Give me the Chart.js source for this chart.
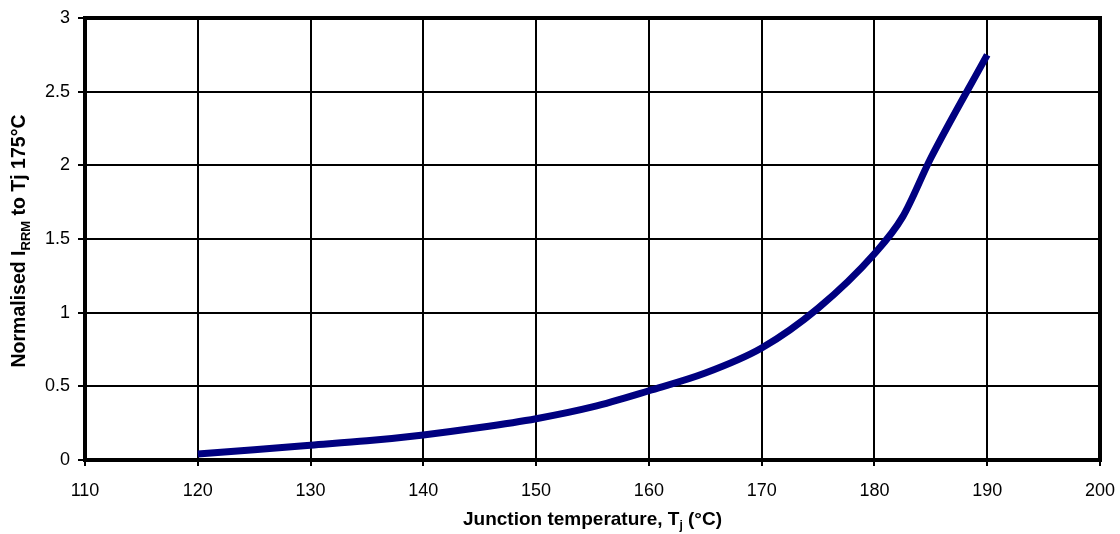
<!DOCTYPE html>
<html>
<head>
<meta charset="utf-8">
<script src="https://cdn.jsdelivr.net/npm/chart.js@4"></script>
<style>
html,body{margin:0;padding:0;background:#fff;overflow:hidden;}
#wrap{width:1120px;height:534px;position:relative;}
</style>
</head>
<body>
<div id="wrap"><canvas id="c"></canvas></div>
<script>
const temperatures = [120, 125, 130, 135, 140, 145, 150, 155, 160, 165, 170, 175, 180, 182.5, 185, 190];
const normalisedIrrm = [0.04, 0.07, 0.10, 0.13, 0.17, 0.22, 0.28, 0.36, 0.47, 0.59, 0.76, 1.03, 1.40, 1.65, 2.05, 2.75];
const xTicks = [110, 120, 130, 140, 150, 160, 170, 180, 190, 200];
const yTicks = [0, 0.5, 1, 1.5, 2, 2.5, 3];
const xTitleParts = [{t:'Junction temperature, T'},{t:'j',sub:true},{t:' (°C)'}];
const yTitleParts = [{t:'Normalised I'},{t:'RRM',sub:true},{t:' to Tj 175°C'}];

const FONT = '"Liberation Sans", Arial, sans-serif';

function drawRich(ctx, parts, cx, cy, size) {
  const subSize = Math.round(size * 0.65);
  let total = 0;
  const widths = parts.map(p => {
    ctx.font = 'bold ' + (p.sub ? subSize : size) + 'px ' + FONT;
    const w = ctx.measureText(p.t).width;
    total += w;
    return w;
  });
  let x = cx - total / 2;
  ctx.textBaseline = 'middle';
  ctx.textAlign = 'left';
  parts.forEach((p, i) => {
    ctx.font = 'bold ' + (p.sub ? subSize : size) + 'px ' + FONT;
    ctx.fillText(p.t, x, p.sub ? cy + size * 0.32 : cy);
    x += widths[i];
  });
}

const framePlugin = {
  id: 'frame',
  afterDraw(chart) {
    const {ctx, chartArea: a} = chart;
    ctx.save();
    ctx.strokeStyle = '#000';
    ctx.lineWidth = 4;
    ctx.strokeRect(a.left, a.top, a.right - a.left, a.bottom - a.top);
    ctx.fillStyle = '#000';
    drawRich(ctx, xTitleParts, (a.left + a.right) / 2, 520, 19);
    ctx.translate(20, (a.top + a.bottom) / 2 + 2);
    ctx.rotate(-Math.PI / 2);
    drawRich(ctx, yTitleParts, 0, 0, 19.5);
    ctx.restore();
  }
};

new Chart(document.getElementById('c'), {
  type: 'line',
  data: {
    datasets: [{
      data: temperatures.map((t, i) => ({x: t, y: normalisedIrrm[i]})),
      borderColor: '#000080',
      borderWidth: 7,
      pointRadius: 0,
      cubicInterpolationMode: 'monotone',
      fill: false
    }]
  },
  options: {
    responsive: true,
    maintainAspectRatio: false,
    animation: false,
    devicePixelRatio: 1,
    layout: {padding: {top: 18, right: 20, left: 0, bottom: 0}},
    plugins: {legend: {display: false}, tooltip: {enabled: false}},
    scales: {
      x: {
        type: 'linear',
        min: 110, max: 200,
        afterBuildTicks: s => { s.ticks = xTicks.map(v => ({value: v})); },
        afterFit: s => { s.height = 74; s.paddingLeft = 0; s.paddingRight = 0; },
        grid: {color: '#000', lineWidth: 2, tickLength: 6, drawTicks: true, tickColor: '#000'},
        border: {display: false},
        ticks: {color: '#000', font: {family: FONT, size: 18}, padding: 14, maxRotation: 0, autoSkip: false, callback: v => String(v)}
      },
      y: {
        type: 'linear',
        min: 0, max: 3,
        afterBuildTicks: s => { s.ticks = yTicks.map(v => ({value: v})); },
        afterFit: s => { s.width = 85; s.paddingTop = 0; s.paddingBottom = 0; },
        grid: {color: '#000', lineWidth: 2, tickLength: 7, drawTicks: true, tickColor: '#000'},
        border: {display: false},
        ticks: {color: '#000', font: {family: FONT, size: 18}, padding: 8, autoSkip: false, callback: v => String(v)}
      }
    }
  },
  plugins: [framePlugin]
});
</script>
</body>
</html>
